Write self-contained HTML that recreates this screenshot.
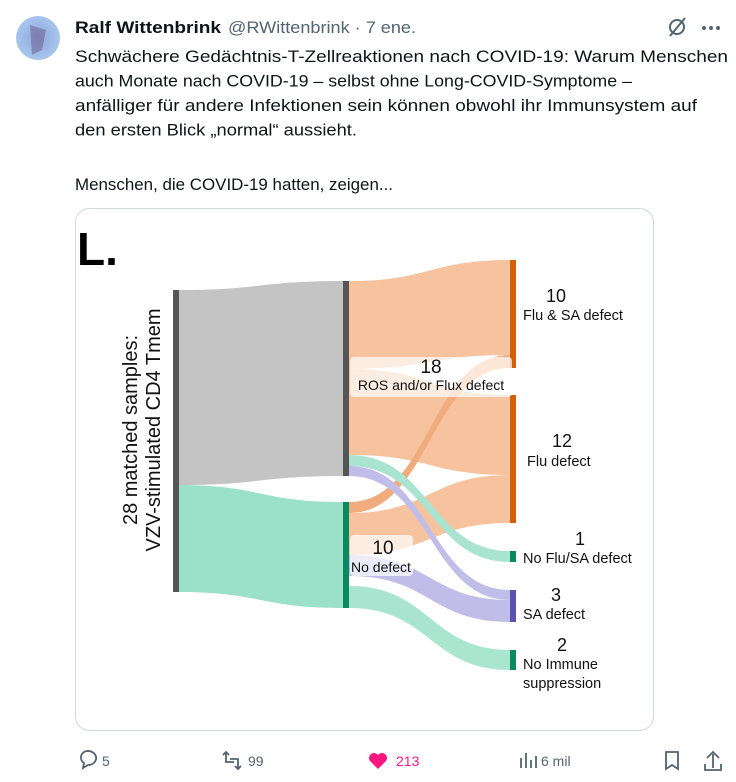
<!DOCTYPE html>
<html><head><meta charset="utf-8"><style>
body{margin:0;background:#fff;width:736px;height:782px;overflow:hidden;font-family:"Liberation Sans",sans-serif;}
svg{position:absolute;left:0;top:0}
</style></head><body>
<svg width="736" height="782" viewBox="0 0 736 782" xmlns="http://www.w3.org/2000/svg">
<defs><radialGradient id="av" cx="50%" cy="50%" r="50%"><stop offset="0" stop-color="#8aa6d8"/><stop offset="1" stop-color="#a9c6ef"/></radialGradient></defs>
<circle cx="38" cy="38" r="22" fill="url(#av)"/>
<path d="M30 25 L46 30 L42 50 L32 55 Z" fill="#6d5a8c" opacity=".5"/>
<g font-family="Liberation Sans, sans-serif" fill="#0f1419" font-size="17">
<text x="75" y="33" font-weight="bold" textLength="146" lengthAdjust="spacingAndGlyphs">Ralf Wittenbrink</text>
<text x="228" y="33" fill="#536471" textLength="188" lengthAdjust="spacingAndGlyphs">@RWittenbrink · 7 ene.</text>
<text x="75" y="62" textLength="653" lengthAdjust="spacingAndGlyphs">Schwächere Gedächtnis-T-Zellreaktionen nach COVID-19: Warum Menschen</text>
<text x="75" y="86.5" textLength="557" lengthAdjust="spacingAndGlyphs">auch Monate nach COVID-19 – selbst ohne Long-COVID-Symptome –</text>
<text x="75" y="111" textLength="622" lengthAdjust="spacingAndGlyphs">anfälliger für andere Infektionen sein können obwohl ihr Immunsystem auf</text>
<text x="75" y="135.5" textLength="282" lengthAdjust="spacingAndGlyphs">den ersten Blick „normal“ aussieht.</text>
<text x="75" y="190" textLength="318" lengthAdjust="spacingAndGlyphs">Menschen, die COVID-19 hatten, zeigen...</text>
</g>
<g stroke="#536471" stroke-width="2" fill="none"><circle cx="677" cy="27" r="7"/><line x1="670" y1="36" x2="685" y2="18"/></g>
<g fill="#536471"><circle cx="704" cy="28" r="2"/><circle cx="711" cy="28" r="2"/><circle cx="718" cy="28" r="2"/></g>
<rect x="75.5" y="208.5" width="578" height="522" rx="14" fill="#fff" stroke="#cfd9de"/>
<text x="77" y="265" font-size="46" font-weight="bold" fill="#000">L.</text>
<path d="M179 290 C260 290 260 281 343 281 L343 476 C260 476 260 485 179 485 Z" fill="#c4c4c4"/>
<path d="M179 485 C260 485 260 502 343 502 L343 608 C260 608 260 592 179 592 Z" fill="#9be0c8"/>
<g opacity=".85">
<path d="M349 281 C430 281 430 260 510 260 L510 355 C430 355 430 369 349 369 Z" fill="#f5b98e"/>
<path d="M349 369 C430 369 430 395 510 395 L510 475 C430 475 430 455 349 455 Z" fill="#f5b98e"/>
<path d="M349 513 C430 513 430 475 510 475 L510 523 C430 523 430 555 349 555 Z" fill="#f5b98e"/>
<path d="M349 502 C430 502 430 355 510 355 L510 368 C430 368 430 513 349 513 Z" fill="#ee9e66"/>
<path d="M349 455 C430 455 430 551 510 551 L510 562 C430 562 430 466 349 466 Z" fill="#9be0c8"/>
<path d="M349 466 C430 466 430 590 510 590 L510 600 C430 600 430 476 349 476 Z" fill="#b6b3e4"/>
<path d="M349 555 C430 555 430 600 510 600 L510 622 C430 622 430 576 349 576 Z" fill="#b6b3e4"/>
<path d="M349 586 C430 586 430 650 510 650 L510 670 C430 670 430 608 349 608 Z" fill="#9be0c8"/>
</g>
<rect x="173" y="290" width="6" height="302" fill="#555"/>
<rect x="343" y="281" width="6" height="195" fill="#555"/>
<rect x="343" y="502" width="6" height="106" fill="#0a8a5e"/>
<rect x="510" y="260" width="6" height="108" fill="#d35f0a"/>
<rect x="510" y="395" width="6" height="128" fill="#d35f0a"/>
<rect x="510" y="551" width="6" height="11" fill="#0a8a5e"/>
<rect x="510" y="590" width="6" height="32" fill="#5a52b0"/>
<rect x="510" y="650" width="6" height="20" fill="#0a8a5e"/>
<rect x="350" y="357" width="162" height="40" rx="4" fill="#fff" opacity=".7"/>
<rect x="350" y="535" width="63" height="41" rx="4" fill="#fff" opacity=".7"/>
<g font-family="Liberation Sans, sans-serif" fill="#111">
<text x="431" y="373" font-size="19" text-anchor="middle">18</text>
<text x="431" y="390" font-size="14" text-anchor="middle">ROS and/or Flux defect</text>
<text x="383" y="554" font-size="19" text-anchor="middle">10</text>
<text x="351" y="572" font-size="14">No defect</text>
<text x="546" y="302" font-size="18">10</text>
<text x="523" y="320" font-size="14.5">Flu &amp; SA defect</text>
<text x="552" y="447" font-size="18">12</text>
<text x="527" y="466" font-size="14.5">Flu defect</text>
<text x="575" y="545" font-size="18">1</text>
<text x="523" y="563" font-size="14.5">No Flu/SA defect</text>
<text x="551" y="601" font-size="18">3</text>
<text x="523" y="619" font-size="14.5">SA defect</text>
<text x="557" y="651" font-size="18">2</text>
<text x="523" y="669" font-size="14.5">No Immune</text>
<text x="523" y="688" font-size="14.5">suppression</text>
<g transform="translate(137,430) rotate(-90)" font-size="20" text-anchor="middle"><text x="0" y="0">28 matched samples:</text><text x="0" y="23">VZV-stimulated CD4 Tmem</text></g>
</g>
<g fill="none" stroke="#536471" stroke-width="1.8">
<path d="M84 752 a8 7 0 1 1 4 13 l-5 3 l1-5 a8 7 0 0 1 0-11z"/>
<path d="M223 755 l3-3 l3 3 M226 752 v10 h8 M241 766 l-3 3 l-3-3 M238 769 v-10 h-8"/>
<path d="M521 768 v-10 M526 768 v-15 M531 768 v-8 M536 768 v-12"/>
<path d="M666 752 h12 v17 l-6-4 l-6 4z"/>
<path d="M713 768 v-14 M707 758 l6-6 l6 6 M705 764 v6 h16 v-6"/>
</g>
<path d="M378 769 l-8-8 a4.5 4.5 0 0 1 8-6 a4.5 4.5 0 0 1 8 6 z" fill="#f91880"/>
<g font-family="Liberation Sans, sans-serif" font-size="14" fill="#536471">
<text x="102" y="766">5</text><text x="248" y="766">99</text><text x="396" y="766" fill="#f91880">213</text><text x="541" y="766">6 mil</text>
</g>
</svg>
</body></html>
